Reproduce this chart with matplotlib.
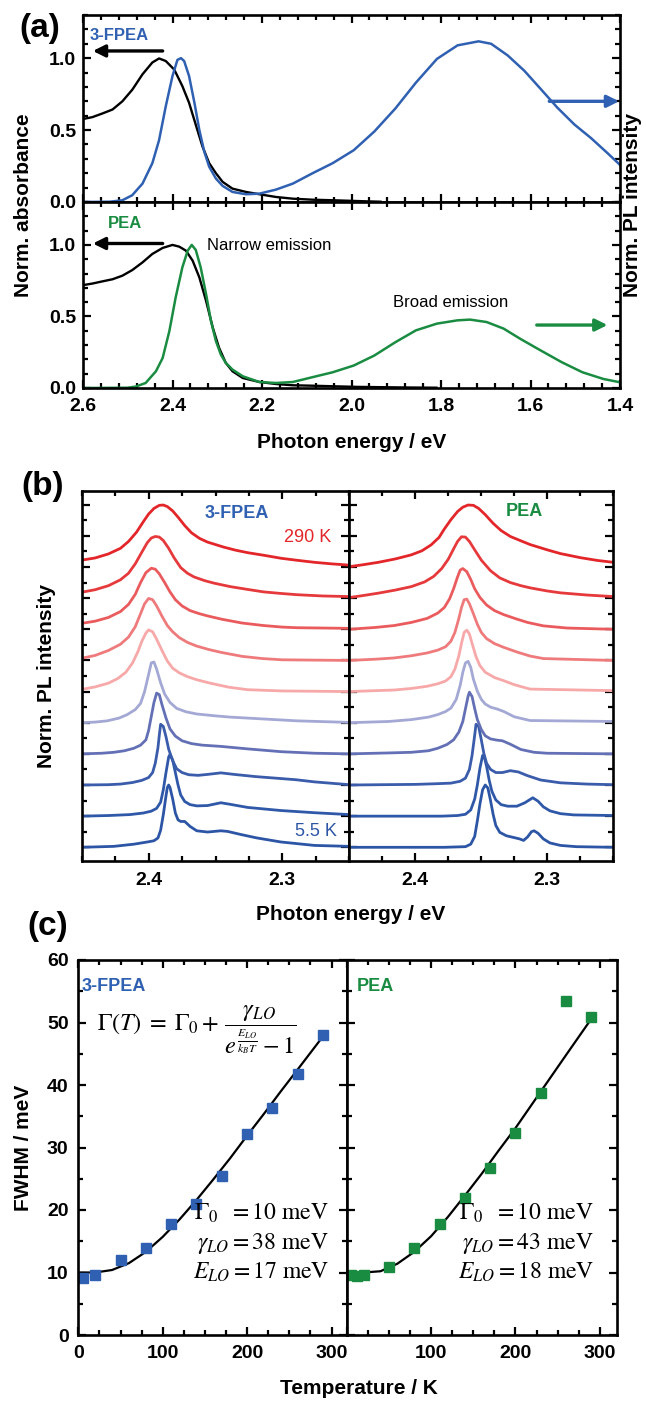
import matplotlib
matplotlib.use('Agg')
import matplotlib.pyplot as plt
from matplotlib.ticker import MultipleLocator, NullFormatter

plt.rcParams['font.family'] = ['Liberation Sans', 'DejaVu Sans']
plt.rcParams['mathtext.fontset'] = 'stix'

BLUE = '#2f60b2'
GREEN = '#1a8c42'

# ---------------- panel (a): absorbance and PL ----------------
abs_fpea_E = [2.600, 2.579, 2.557, 2.534, 2.512, 2.490, 2.467, 2.445, 2.430, 2.415,
              2.396, 2.378, 2.363, 2.348, 2.333, 2.318, 2.303, 2.288, 2.266, 2.236,
              2.206, 2.169, 2.131, 2.087, 2.040, 2.000, 1.960, 1.935]
abs_fpea = [0.577, 0.590, 0.615, 0.643, 0.700, 0.780, 0.888, 0.970, 0.998, 0.980,
            0.920, 0.806, 0.690, 0.537, 0.386, 0.270, 0.200, 0.140, 0.093, 0.070,
            0.054, 0.035, 0.023, 0.016, 0.012, 0.008, 0.004, 0.002]

pl_fpea_E = [2.600, 2.540, 2.512, 2.490, 2.467, 2.445, 2.430, 2.415, 2.400, 2.389,
             2.381, 2.374, 2.363, 2.351, 2.340, 2.329, 2.318, 2.303, 2.288, 2.266,
             2.236, 2.206, 2.169, 2.131, 2.087, 2.042, 1.995, 1.949, 1.902, 1.856,
             1.809, 1.763, 1.716, 1.688, 1.651, 1.614, 1.577, 1.540, 1.502, 1.465,
             1.428, 1.400]
pl_fpea = [0.000, 0.002, 0.012, 0.047, 0.128, 0.270, 0.430, 0.666, 0.876, 0.988,
           1.000, 0.980, 0.876, 0.690, 0.500, 0.350, 0.245, 0.163, 0.112, 0.070,
           0.054, 0.058, 0.086, 0.128, 0.200, 0.270, 0.360, 0.490, 0.650, 0.830,
           0.995, 1.089, 1.117, 1.100, 1.019, 0.913, 0.785, 0.656, 0.539, 0.445,
           0.340, 0.258]

abs_pea_E = [2.600, 2.579, 2.557, 2.534, 2.512, 2.490, 2.467, 2.445, 2.422, 2.400,
             2.385, 2.370, 2.355, 2.340, 2.325, 2.310, 2.296, 2.281, 2.266, 2.243,
             2.206, 2.169, 2.131, 2.087, 2.040, 1.990, 1.940, 1.890, 1.850, 1.810]
abs_pea = [0.719, 0.730, 0.745, 0.760, 0.785, 0.824, 0.878, 0.937, 0.979, 1.000,
           0.988, 0.960, 0.890, 0.773, 0.609, 0.422, 0.281, 0.176, 0.117, 0.070,
           0.042, 0.028, 0.019, 0.016, 0.012, 0.008, 0.006, 0.004, 0.003, 0.002]

pl_pea_E = [2.600, 2.500, 2.482, 2.460, 2.437, 2.422, 2.407, 2.393, 2.378, 2.366,
            2.357, 2.348, 2.337, 2.325, 2.314, 2.303, 2.292, 2.281, 2.266, 2.243,
            2.206, 2.169, 2.131, 2.088, 2.042, 1.995, 1.949, 1.902, 1.856, 1.809,
            1.763, 1.735, 1.698, 1.660, 1.623, 1.577, 1.530, 1.484, 1.437, 1.400]
pl_pea = [0.000, 0.002, 0.010, 0.035, 0.117, 0.210, 0.398, 0.632, 0.843, 0.960,
          1.000, 0.965, 0.843, 0.656, 0.468, 0.328, 0.234, 0.176, 0.129, 0.082,
          0.042, 0.035, 0.042, 0.075, 0.110, 0.157, 0.227, 0.320, 0.403, 0.450,
          0.473, 0.478, 0.461, 0.415, 0.344, 0.262, 0.180, 0.110, 0.063, 0.040]

# ---------------- panel (b): temperature dependent PL, 5.5 K (first) -> 290 K (last) ----------------
fpea_E = [
    [2.450, 2.426, 2.411, 2.401, 2.396, 2.393, 2.391, 2.389, 2.387, 2.386, 2.385, 2.384, 2.382, 2.380,
     2.378, 2.376, 2.373, 2.369, 2.364, 2.356, 2.346, 2.341, 2.331, 2.319, 2.301, 2.276, 2.250],
    [2.450, 2.430, 2.414, 2.404, 2.398, 2.394, 2.391, 2.389, 2.387, 2.385, 2.384, 2.382, 2.380,
     2.378, 2.376, 2.373, 2.369, 2.364, 2.356, 2.346, 2.339, 2.326, 2.301, 2.276, 2.250],
    [2.450, 2.430, 2.421, 2.412, 2.405, 2.400, 2.397, 2.395, 2.393, 2.392, 2.391, 2.389, 2.387, 2.385,
     2.382, 2.379, 2.375, 2.370, 2.363, 2.356, 2.346, 2.336, 2.320, 2.305, 2.290, 2.276, 2.250],
    [2.450, 2.435, 2.426, 2.418, 2.411, 2.406, 2.402, 2.400, 2.398, 2.396, 2.394, 2.392, 2.390, 2.387,
     2.384, 2.380, 2.375, 2.368, 2.360, 2.346, 2.326, 2.301, 2.276, 2.250],
    [2.450, 2.440, 2.431, 2.422, 2.416, 2.410, 2.406, 2.403, 2.400, 2.398, 2.396, 2.394, 2.391, 2.388,
     2.384, 2.379, 2.372, 2.364, 2.350, 2.339, 2.314, 2.289, 2.250],
    [2.450, 2.440, 2.430, 2.423, 2.417, 2.412, 2.408, 2.405, 2.402, 2.400, 2.397, 2.394, 2.390, 2.386,
     2.382, 2.377, 2.371, 2.364, 2.355, 2.340, 2.326, 2.300, 2.250],
    [2.450, 2.440, 2.430, 2.421, 2.415, 2.410, 2.406, 2.403, 2.400, 2.397, 2.394, 2.390, 2.386, 2.382,
     2.377, 2.371, 2.364, 2.355, 2.346, 2.330, 2.315, 2.300, 2.250],
    [2.450, 2.440, 2.430, 2.421, 2.415, 2.410, 2.406, 2.402, 2.398, 2.395, 2.392, 2.388, 2.384, 2.380,
     2.375, 2.369, 2.362, 2.356, 2.345, 2.330, 2.314, 2.300, 2.289, 2.250],
    [2.450, 2.440, 2.430, 2.421, 2.415, 2.410, 2.405, 2.401, 2.398, 2.395, 2.392, 2.389, 2.385, 2.381,
     2.376, 2.371, 2.366, 2.358, 2.351, 2.339, 2.326, 2.314, 2.301, 2.289, 2.270, 2.250],
    [2.450, 2.440, 2.430, 2.421, 2.415, 2.409, 2.404, 2.400, 2.396, 2.392, 2.389, 2.386, 2.382, 2.378,
     2.373, 2.368, 2.362, 2.356, 2.350, 2.344, 2.335, 2.326, 2.313, 2.301, 2.288, 2.276, 2.263, 2.250],
]
fpea_I = [
    [0.00, 0.03, 0.10, 0.17, 0.21, 0.30, 0.55, 1.05, 1.65, 1.92, 2.00, 1.92, 1.55, 1.10,
     0.88, 0.83, 0.83, 0.67, 0.53, 0.49, 0.53, 0.51, 0.41, 0.30, 0.17, 0.06, 0.03],
    [0.00, 0.02, 0.05, 0.10, 0.16, 0.25, 0.45, 0.85, 1.40, 1.90, 1.98, 1.80, 1.40,
     1.00, 0.68, 0.47, 0.37, 0.33, 0.34, 0.43, 0.38, 0.28, 0.18, 0.11, 0.05],
    [0.00, 0.01, 0.03, 0.08, 0.15, 0.24, 0.40, 0.70, 1.20, 1.60, 1.95, 1.88, 1.55, 1.15,
     0.78, 0.52, 0.40, 0.33, 0.31, 0.34, 0.39, 0.34, 0.27, 0.22, 0.17, 0.10, 0.01],
    [0.00, 0.02, 0.05, 0.10, 0.18, 0.28, 0.45, 0.75, 1.20, 1.65, 1.95, 1.90, 1.58, 1.15,
     0.80, 0.57, 0.42, 0.33, 0.28, 0.24, 0.16, 0.07, 0.02, 0.00],
    [0.00, 0.02, 0.06, 0.15, 0.26, 0.42, 0.62, 1.00, 1.55, 1.92, 1.95, 1.72, 1.28, 0.92,
     0.65, 0.46, 0.35, 0.28, 0.22, 0.18, 0.12, 0.06, 0.01],
    [0.07, 0.15, 0.27, 0.42, 0.62, 0.92, 1.28, 1.62, 1.88, 1.98, 1.92, 1.68, 1.32, 0.98,
     0.75, 0.60, 0.48, 0.38, 0.28, 0.14, 0.06, 0.02, 0.00],
    [0.07, 0.16, 0.32, 0.52, 0.75, 1.08, 1.50, 1.82, 1.99, 1.95, 1.75, 1.42, 1.12, 0.92,
     0.73, 0.58, 0.46, 0.35, 0.26, 0.13, 0.06, 0.02, 0.00],
    [0.19, 0.26, 0.38, 0.57, 0.80, 1.12, 1.50, 1.82, 1.96, 1.93, 1.78, 1.50, 1.20, 0.95,
     0.75, 0.60, 0.50, 0.43, 0.32, 0.20, 0.12, 0.07, 0.05, 0.03],
    [0.19, 0.27, 0.40, 0.59, 0.80, 1.10, 1.48, 1.78, 1.93, 1.98, 1.96, 1.85, 1.60, 1.30,
     0.98, 0.80, 0.68, 0.56, 0.48, 0.37, 0.28, 0.20, 0.15, 0.11, 0.07, 0.05],
    [0.22, 0.29, 0.42, 0.60, 0.82, 1.12, 1.45, 1.70, 1.88, 1.98, 1.99, 1.94, 1.80, 1.60,
     1.33, 1.10, 0.92, 0.80, 0.72, 0.64, 0.54, 0.46, 0.37, 0.28, 0.21, 0.15, 0.10, 0.06],
]

pea_E = [
    [2.450, 2.378, 2.362, 2.358, 2.355, 2.353, 2.351, 2.349, 2.347, 2.345, 2.343, 2.341, 2.339, 2.336,
     2.331, 2.326, 2.321, 2.318, 2.315, 2.312, 2.310, 2.307, 2.303, 2.298, 2.290, 2.278, 2.250],
    [2.450, 2.380, 2.368, 2.362, 2.358, 2.355, 2.353, 2.351, 2.349, 2.348, 2.346, 2.344, 2.342, 2.339,
     2.335, 2.330, 2.323, 2.317, 2.311, 2.307, 2.303, 2.298, 2.290, 2.280, 2.250],
    [2.450, 2.400, 2.385, 2.373, 2.366, 2.362, 2.359, 2.357, 2.355, 2.354, 2.352, 2.350, 2.348, 2.346,
     2.343, 2.339, 2.334, 2.328, 2.322, 2.315, 2.305, 2.290, 2.270, 2.250],
    [2.450, 2.420, 2.403, 2.390, 2.383, 2.376, 2.371, 2.367, 2.364, 2.362, 2.360, 2.359, 2.357, 2.355,
     2.353, 2.350, 2.347, 2.343, 2.338, 2.334, 2.328, 2.320, 2.310, 2.300, 2.250],
    [2.450, 2.420, 2.403, 2.390, 2.383, 2.377, 2.373, 2.369, 2.366, 2.364, 2.362, 2.360, 2.358, 2.356,
     2.353, 2.350, 2.347, 2.343, 2.338, 2.333, 2.325, 2.313, 2.250],
    [2.450, 2.430, 2.416, 2.403, 2.391, 2.383, 2.377, 2.373, 2.370, 2.367, 2.365, 2.363, 2.361, 2.359,
     2.357, 2.354, 2.351, 2.347, 2.340, 2.333, 2.325, 2.313, 2.250],
    [2.450, 2.430, 2.416, 2.403, 2.391, 2.383, 2.377, 2.373, 2.370, 2.367, 2.365, 2.363, 2.361, 2.359,
     2.356, 2.353, 2.350, 2.346, 2.340, 2.333, 2.323, 2.313, 2.303, 2.250],
    [2.450, 2.430, 2.416, 2.403, 2.391, 2.383, 2.378, 2.374, 2.371, 2.368, 2.366, 2.364, 2.361, 2.358,
     2.355, 2.351, 2.346, 2.340, 2.333, 2.324, 2.315, 2.303, 2.285, 2.250],
    [2.450, 2.440, 2.428, 2.415, 2.403, 2.393, 2.386, 2.380, 2.375, 2.371, 2.368, 2.365, 2.362, 2.359,
     2.355, 2.350, 2.343, 2.336, 2.328, 2.320, 2.313, 2.300, 2.290, 2.270, 2.250],
    [2.450, 2.440, 2.428, 2.415, 2.403, 2.395, 2.388, 2.382, 2.378, 2.373, 2.368, 2.364, 2.360, 2.356,
     2.352, 2.347, 2.341, 2.335, 2.328, 2.320, 2.313, 2.300, 2.290, 2.275, 2.262, 2.250],
]
pea_I = [
    [0.00, 0.00, 0.02, 0.10, 0.35, 0.85, 1.40, 1.85, 2.00, 1.90, 1.50, 1.05, 0.70, 0.48,
     0.37, 0.32, 0.27, 0.22, 0.33, 0.50, 0.53, 0.45, 0.27, 0.14, 0.06, 0.02, 0.00],
    [0.00, 0.00, 0.02, 0.06, 0.20, 0.55, 1.00, 1.55, 1.95, 1.95, 1.60, 1.15, 0.80, 0.52,
     0.37, 0.32, 0.32, 0.43, 0.59, 0.48, 0.30, 0.17, 0.08, 0.04, 0.02],
    [0.00, 0.02, 0.04, 0.06, 0.12, 0.22, 0.50, 0.95, 1.60, 1.95, 1.88, 1.45, 1.00, 0.70,
     0.50, 0.40, 0.40, 0.46, 0.42, 0.30, 0.16, 0.07, 0.03, 0.01],
    [0.00, 0.03, 0.05, 0.10, 0.18, 0.30, 0.45, 0.70, 1.04, 1.45, 1.85, 1.98, 1.84, 1.45,
     1.10, 0.78, 0.58, 0.48, 0.44, 0.42, 0.31, 0.14, 0.05, 0.02, 0.00],
    [0.00, 0.04, 0.10, 0.18, 0.26, 0.36, 0.47, 0.75, 1.20, 1.62, 1.92, 1.97, 1.78, 1.40,
     1.01, 0.75, 0.60, 0.50, 0.44, 0.36, 0.19, 0.07, 0.04],
    [0.00, 0.03, 0.05, 0.10, 0.17, 0.25, 0.34, 0.48, 0.72, 1.15, 1.55, 1.90, 1.97, 1.85,
     1.55, 1.12, 0.83, 0.62, 0.45, 0.35, 0.22, 0.08, 0.03],
    [0.00, 0.04, 0.08, 0.15, 0.24, 0.33, 0.44, 0.62, 0.90, 1.35, 1.70, 1.95, 1.97, 1.82,
     1.50, 1.16, 0.90, 0.70, 0.54, 0.42, 0.27, 0.14, 0.06, 0.00],
    [0.00, 0.06, 0.12, 0.22, 0.35, 0.52, 0.70, 0.98, 1.30, 1.68, 1.90, 1.95, 1.85, 1.60,
     1.30, 1.02, 0.78, 0.60, 0.47, 0.34, 0.22, 0.11, 0.04, 0.00],
    [0.02, 0.08, 0.16, 0.26, 0.37, 0.52, 0.70, 0.95, 1.25, 1.58, 1.82, 1.97, 1.96, 1.82,
     1.55, 1.22, 0.88, 0.65, 0.50, 0.40, 0.33, 0.23, 0.17, 0.10, 0.05],
    [0.01, 0.07, 0.15, 0.26, 0.39, 0.52, 0.71, 0.95, 1.22, 1.52, 1.78, 1.92, 1.99, 1.98,
     1.88, 1.68, 1.40, 1.17, 0.98, 0.84, 0.72, 0.55, 0.43, 0.30, 0.21, 0.15],
]

curve_colors = ['#2d55a5', '#2f58a8', '#3a5cab', '#6470b5', '#a3a8d4',
                '#f7a8a8', '#ef7a7c', '#ea5b5e', '#e6393c', '#e3262a']

# ---------------- panel (c): FWHM vs temperature ----------------
T_fpea = [5.5, 20, 50, 80, 110, 140, 170, 200, 230, 260, 290]
fwhm_fpea = [9.1, 9.6, 12.0, 14.0, 17.7, 21.0, 25.4, 32.1, 36.4, 41.8, 48.0]
T_pea = [5.5, 12, 20, 50, 80, 110, 140, 170, 200, 230, 260, 290]
fwhm_pea = [9.6, 9.4, 9.6, 10.9, 14.0, 17.8, 21.9, 26.8, 32.3, 38.8, 53.5, 50.9]

# fitted curves as drawn
Tfit_fpea = [0, 20, 40, 60, 80, 100, 120, 140, 160, 180, 200, 220, 240, 260, 290]
fit_fpea = [10.0, 10.0, 10.4, 11.5, 13.3, 15.7, 18.5, 21.6, 24.9, 28.3, 31.9, 35.4, 39.0, 42.5, 47.8]
Tfit_pea = [5.5, 20, 40, 60, 80, 100, 120, 140, 160, 180, 200, 220, 240, 260, 290]
fit_pea = [10.0, 10.0, 10.2, 11.4, 13.3, 15.8, 18.9, 22.3, 25.8, 29.5, 33.1, 37.0, 40.9, 44.8, 50.6]

W, H = 646, 1402
fig = plt.figure(figsize=(W / 100, H / 100), dpi=100)


def box(x0, y0, x1, y1):
    return [x0 / W, 1 - y1 / H, (x1 - x0) / W, (y1 - y0) / H]


def style(ax, xmaj, xmin, ymaj, ymin):
    ax.xaxis.set_major_locator(MultipleLocator(xmaj))
    ax.xaxis.set_minor_locator(MultipleLocator(xmin))
    ax.yaxis.set_major_locator(MultipleLocator(ymaj))
    ax.yaxis.set_minor_locator(MultipleLocator(ymin))
    ax.tick_params(which='both', direction='in', top=True, right=True, width=1.6,
                   labelsize=14)
    ax.tick_params(which='major', length=6)
    ax.tick_params(which='minor', length=3.5)
    ax.tick_params(axis='x', pad=7)
    ax.tick_params(axis='y', pad=5)
    for s in ax.spines.values():
        s.set_linewidth(1.9)


arrow_kw = dict(arrowstyle='-|>', lw=2.4, mutation_scale=18, shrinkA=0, shrinkB=0)

# ---- (a) top: 3-FPEA
ax1 = fig.add_axes(box(83, 15, 620, 202))
ax1.plot(abs_fpea_E, abs_fpea, color='black', lw=1.7)
ax1.plot(pl_fpea_E, pl_fpea, color=BLUE, lw=1.8)
ax1.set_xlim(2.6, 1.4)
ax1.set_ylim(0, 1.3)
style(ax1, 0.2, 0.04, 0.5, 0.1)
ax1.xaxis.set_major_formatter(NullFormatter())
ax1.set_yticks([0, 0.5, 1.0])
ax1.set_yticklabels(['0.0', '0.5', '1.0'], fontweight='bold')
ax1.annotate('', xy=(2.578, 1.05), xytext=(2.422, 1.05), arrowprops=dict(color='black', **arrow_kw))
ax1.annotate('', xy=(1.402, 0.70), xytext=(1.558, 0.70), arrowprops=dict(color=BLUE, **arrow_kw))
ax1.text(2.586, 1.16, '3-FPEA', color=BLUE, fontsize=12, fontweight='bold', va='center', ha='left')

# ---- (a) bottom: PEA
ax2 = fig.add_axes(box(83, 202, 620, 388))
ax2.plot(abs_pea_E, abs_pea, color='black', lw=1.7)
ax2.plot(pl_pea_E, pl_pea, color=GREEN, lw=1.8)
ax2.set_xlim(2.6, 1.4)
ax2.set_ylim(0, 1.3)
style(ax2, 0.2, 0.04, 0.5, 0.1)
ax2.set_xticks([2.6, 2.4, 2.2, 2.0, 1.8, 1.6, 1.4])
ax2.set_xticklabels(['2.6', '2.4', '2.2', '2.0', '1.8', '1.6', '1.4'], fontweight='bold')
ax2.set_yticks([0, 0.5, 1.0])
ax2.set_yticklabels(['0.0', '0.5', '1.0'], fontweight='bold')
ax2.annotate('', xy=(2.578, 1.01), xytext=(2.422, 1.01), arrowprops=dict(color='black', **arrow_kw))
ax2.annotate('', xy=(1.428, 0.44), xytext=(1.586, 0.44), arrowprops=dict(color=GREEN, **arrow_kw))
ax2.text(2.545, 1.15, 'PEA', color=GREEN, fontsize=12, fontweight='bold', va='center', ha='left')
ax2.text(2.322, 0.995, 'Narrow emission', fontsize=12, va='center', ha='left')
ax2.text(1.907, 0.60, 'Broad emission', fontsize=12, va='center', ha='left')

fig.text(24 / W, 1 - 205 / H, 'Norm. absorbance', rotation=90, fontsize=15,
         fontweight='bold', ha='center', va='center')
fig.text(632 / W, 1 - 205 / H, 'Norm. PL intensity', rotation=90, fontsize=15,
         fontweight='bold', ha='center', va='center')
fig.text(352 / W, 1 - 443 / H, 'Photon energy / eV', fontsize=15, fontweight='bold',
         ha='center', va='center')

# ---- (b)
axb1 = fig.add_axes(box(81.7, 491, 349.3, 861))
axb2 = fig.add_axes(box(349.3, 491, 613.3, 861))
for ax, Es, Is in [(axb1, fpea_E, fpea_I), (axb2, pea_E, pea_I)]:
    for i, (e, inten) in enumerate(zip(Es, Is)):
        ax.plot(e, [v + i for v in inten], color=curve_colors[i], lw=2.0,
                solid_joinstyle='round')
    ax.set_xlim(2.45, 2.25)
    ax.set_ylim(-0.44, 11.44)
    style(ax, 0.1, 0.025, 1, 0.5)
    ax.set_xticks([2.4, 2.3])
    ax.set_xticklabels(['2.4', '2.3'], fontweight='bold')
    ax.tick_params(axis='x', pad=8)
    ax.yaxis.set_major_formatter(NullFormatter())
axb1.text(2.334, 10.73, '3-FPEA', color=BLUE, fontsize=13, fontweight='bold', ha='center', va='center')
axb1.text(2.281, 9.95, '290 K', color=curve_colors[-1], fontsize=13, ha='center', va='center')
axb1.text(2.275, 0.51, '5.5 K', color=curve_colors[0], fontsize=13, ha='center', va='center')
axb2.text(2.317, 10.78, 'PEA', color=GREEN, fontsize=13, fontweight='bold', ha='center', va='center')

fig.text(47 / W, 1 - 676 / H, 'Norm. PL intensity', rotation=90, fontsize=15,
         fontweight='bold', ha='center', va='center')
fig.text(351 / W, 1 - 915 / H, 'Photon energy / eV', fontsize=15, fontweight='bold',
         ha='center', va='center')

# ---- (c)
axc1 = fig.add_axes(box(78.3, 960, 346.7, 1335))
axc2 = fig.add_axes(box(346.7, 960, 616.7, 1335))
axc1.plot(Tfit_fpea, fit_fpea, color='black', lw=1.6)
axc1.plot(T_fpea, fwhm_fpea, 's', color=BLUE, ms=7)
axc2.plot(Tfit_pea, fit_pea, color='black', lw=1.6)
axc2.plot(T_pea, fwhm_pea, 's', color=GREEN, ms=7)
axc1.set_xlim(0, 318)
axc2.set_xlim(0, 320)
for ax in (axc1, axc2):
    ax.set_ylim(0, 60)
    style(ax, 100, 25, 10, 5)
    ax.tick_params(axis='y', pad=7)
axc1.set_xticks([0, 100, 200, 300])
axc1.set_xticklabels(['0', '100', '200', '300'], fontweight='bold')
axc2.set_xticks([0, 100, 200, 300])
axc2.set_xticklabels(['', '100', '200', '300'], fontweight='bold')
axc1.set_yticks([0, 10, 20, 30, 40, 50, 60])
axc1.set_yticklabels(['0', '10', '20', '30', '40', '50', '60'], fontweight='bold')
axc2.yaxis.set_major_formatter(NullFormatter())

axc1.text(4, 55.8, '3-FPEA', color=BLUE, fontsize=13, fontweight='bold', ha='left', va='center')
axc2.text(12, 55.8, 'PEA', color=GREEN, fontsize=13, fontweight='bold', ha='left', va='center')
axc1.text(22, 48.8, r'$\Gamma(T)\;=\;\Gamma_0+\,\dfrac{\gamma_{LO}}{e^{\frac{E_{LO}}{k_BT}}-1}$',
          fontsize=17.5, ha='left', va='center')
for ax, xr, vals in [(axc1, 297, ('10', '38', '17')), (axc2, 293, ('10', '43', '18'))]:
    ax.text(xr, 19.5, r'$\Gamma_0\ \ =%s\ \mathrm{meV}$' % vals[0], fontsize=17,
            ha='right', va='center')
    ax.text(xr, 14.7, r'$\gamma_{LO}=%s\ \mathrm{meV}$' % vals[1], fontsize=17,
            ha='right', va='center')
    ax.text(xr, 10.1, r'$E_{LO}=%s\ \mathrm{meV}$' % vals[2], fontsize=17,
            ha='right', va='center')

fig.text(24 / W, 1 - 1148 / H, 'FWHM / meV', rotation=90, fontsize=15,
         fontweight='bold', ha='center', va='center')
fig.text(359 / W, 1 - 1389 / H, 'Temperature / K', fontsize=15, fontweight='bold',
         ha='center', va='center')

# panel letters
fig.text(40 / W, 1 - 28 / H, '(a)', fontsize=24, fontweight='bold', ha='center', va='center')
fig.text(43 / W, 1 - 486 / H, '(b)', fontsize=24, fontweight='bold', ha='center', va='center')
fig.text(48 / W, 1 - 927 / H, '(c)', fontsize=24, fontweight='bold', ha='center', va='center')

fig.savefig('out.png', dpi=100)
